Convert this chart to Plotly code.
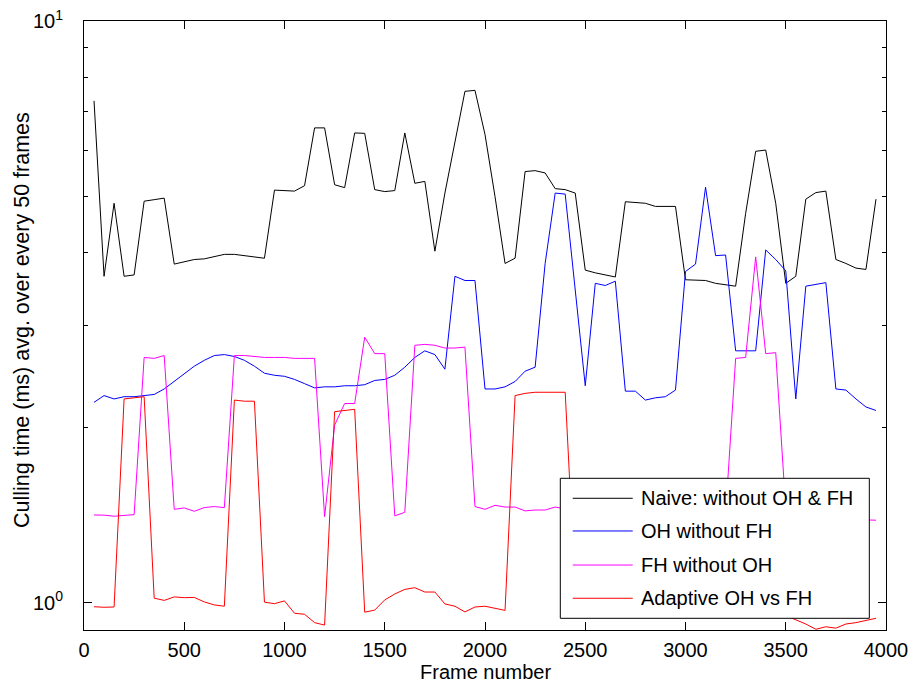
import plotly.graph_objects as go

# ---------------- data ----------------
frames = list(range(50, 4000, 50))

naive = [7.29, 3.64, 4.86, 3.64, 3.66, 4.90, 4.93, 4.96, 3.82, 3.86,
         3.89, 3.90, 3.93, 3.97, 3.97, 3.95, 3.92, 3.91, 5.12, 5.11,
         5.10, 5.21, 6.55, 6.55, 5.23, 5.17, 6.42, 6.41, 5.13, 5.09,
         5.11, 6.42, 5.26, 5.30, 4.02, 5.06, 6.20, 7.57, 7.60, 6.38,
         4.99, 3.83, 3.91, 5.51, 5.53, 5.48, 5.15, 5.13, 5.06, 3.73,
         3.69, 3.66, 3.63, 4.89, 4.88, 4.86, 4.80, 4.80, 4.80, 3.59,
         3.58, 3.58, 3.54, 3.52, 3.50, 4.67, 5.97, 6.00, 4.86, 3.54,
         3.64, 4.94, 5.07, 5.10, 3.89, 3.83, 3.76, 3.74, 4.94]

oh_only = [2.21, 2.27, 2.24, 2.26, 2.26, 2.27, 2.28, 2.33, 2.40, 2.47,
           2.55, 2.61, 2.66, 2.67, 2.65, 2.61, 2.55, 2.48, 2.46, 2.45,
           2.42, 2.38, 2.34, 2.35, 2.35, 2.36, 2.36, 2.37, 2.41, 2.42,
           2.46, 2.54, 2.64, 2.71, 2.67, 2.52, 3.64, 3.58, 3.58, 2.33,
           2.33, 2.35, 2.40, 2.50, 2.54, 3.83, 5.06, 5.04, 3.45, 2.36,
           3.54, 3.51, 3.57, 2.31, 2.31, 2.23, 2.25, 2.26, 2.32, 3.71,
           3.82, 5.18, 3.95, 3.96, 2.71, 2.71, 2.71, 4.04, 3.89, 3.72,
           2.24, 3.50, 3.53, 3.55, 2.33, 2.32, 2.24, 2.17, 2.14]

fh_only = [1.415, 1.414, 1.408, 1.414, 1.417, 2.64, 2.63, 2.66, 1.447, 1.455,
           1.436, 1.457, 1.463, 1.457, 2.66, 2.66, 2.65, 2.64, 2.64, 2.64,
           2.63, 2.63, 2.63, 1.406, 2.02, 2.20, 2.20, 2.86, 2.68, 2.68,
           1.41, 1.43, 2.77, 2.78, 2.77, 2.74, 2.74, 2.75, 1.463, 1.447,
           1.47, 1.46, 1.46, 1.438, 1.443, 1.443, 1.46, 1.45, 1.46, 1.44,
           1.45, 1.46, 1.45, 1.44, 1.45, 1.46, 1.45, 1.44, 1.45, 1.45,
           1.46, 1.44, 1.43, 1.42, 2.63, 2.64, 3.93, 2.68, 2.69, 1.45,
           1.42, 1.41, 1.40, 1.40, 1.40, 1.39, 1.39, 1.39, 1.386]

adaptive = [0.984, 0.982, 0.983, 2.24, 2.25, 2.26, 1.018, 1.009, 1.023, 1.020,
            1.021, 1.003, 0.991, 0.986, 2.23, 2.22, 2.22, 1.002, 0.996, 1.007,
            0.959, 0.955, 0.924, 0.915, 2.13, 2.14, 2.15, 0.963, 0.971, 1.011,
            1.035, 1.054, 1.061, 1.043, 1.043, 0.995, 0.986, 0.964, 0.983, 0.986,
            0.978, 0.970, 2.27, 2.29, 2.30, 2.30, 2.30, 2.30, 1.05, 0.99,
            0.98, 0.99, 1.00, 0.98, 0.97, 0.98, 0.99, 1.00, 0.98, 0.97,
            0.99, 1.00, 0.98, 0.99, 1.00, 0.98, 0.97, 0.98, 0.96, 0.95,
            0.934, 0.919, 0.90, 0.909, 0.904, 0.919, 0.924, 0.931, 0.940]

series_names = ["Naive: without OH & FH", "OH without FH", "FH without OH", "Adaptive OH vs FH"]
series_values = [naive, oh_only, fh_only, adaptive]
series_colors = ["#000000", "#0000FF", "#FF00FF", "#FF0000"]

x_ticks = [0, 500, 1000, 1500, 2000, 2500, 3000, 3500, 4000]
y_major = [1, 10]
y_major_text = ["10<sup>0</sup>", "10<sup>1</sup>"]
y_minor = [0.9, 2, 3, 4, 5, 6, 7, 8, 9]

x_title = "Frame number"
y_title = "Culling time (ms) avg. over every 50 frames"

FONT = "Liberation Sans, Arial, Helvetica, sans-serif"

fig = go.Figure()
for name, vals, col in zip(series_names, series_values, series_colors):
    fig.add_trace(go.Scatter(x=frames, y=vals, mode="lines", name=name,
                             line=dict(color=col, width=1), showlegend=False))

fig.update_layout(
    width=913, height=690,
    margin=dict(l=84, r=27, t=21, b=60, autoexpand=False),
    paper_bgcolor="white", plot_bgcolor="white",
    font=dict(family=FONT, size=20, color="black"),
)

fig.update_xaxes(
    range=[0, 4000], tickmode="array", tickvals=x_ticks,
    ticks="inside", ticklen=8, tickcolor="black", tickwidth=1,
    showline=True, linecolor="black", linewidth=1, mirror="allticks",
    showgrid=False, zeroline=False, automargin=False,
    tickfont=dict(size=20, family=FONT),
    ticklabelstandoff=2,
)

fig.update_yaxes(
    type="log", range=[-0.047, 1],
    tickmode="array", tickvals=y_major, ticktext=y_major_text,
    ticks="inside", ticklen=8, tickcolor="black", tickwidth=1,
    minor=dict(tickmode="array", tickvals=y_minor, ticks="inside", ticklen=4,
               tickcolor="black", showgrid=False),
    showline=True, linecolor="black", linewidth=1, mirror="allticks",
    showgrid=False, zeroline=False, automargin=False,
    tickfont=dict(size=20, family=FONT),
    ticklabelstandoff=16,
)

# axis titles
fig.add_annotation(xref="paper", yref="paper", x=0.5, y=-0.069, text=x_title,
                   showarrow=False, xanchor="center", yanchor="middle",
                   font=dict(size=20, family=FONT, color="black"))
fig.add_annotation(xref="paper", yref="paper", x=-0.0773, y=0.509, text=y_title,
                   showarrow=False, xanchor="center", yanchor="middle", textangle=-90,
                   font=dict(size=21.5, family=FONT, color="black"))

# ---------------- manual legend (MATLAB style box) ----------------
box = dict(x0=0.5939, x1=0.9792, y0=0.0192, y1=0.2491)
line_x = (0.6094, 0.6842)
text_x = 0.6915
rows_y = [0.2163, 0.1626, 0.1067, 0.0521]

fig.add_shape(type="rect", xref="paper", yref="paper",
              x0=box["x0"], x1=box["x1"], y0=box["y0"], y1=box["y1"],
              fillcolor="white", line=dict(color="black", width=1), layer="above")
for name, col, ry in zip(series_names, series_colors, rows_y):
    fig.add_shape(type="line", xref="paper", yref="paper",
                  x0=line_x[0], x1=line_x[1], y0=ry, y1=ry,
                  line=dict(color=col, width=1), layer="above")
    fig.add_annotation(xref="paper", yref="paper", x=text_x, y=ry,
                       text=name, showarrow=False, xanchor="left", yanchor="middle",
                       font=dict(size=20, family=FONT, color="black"))

fig.write_html("out.html")
